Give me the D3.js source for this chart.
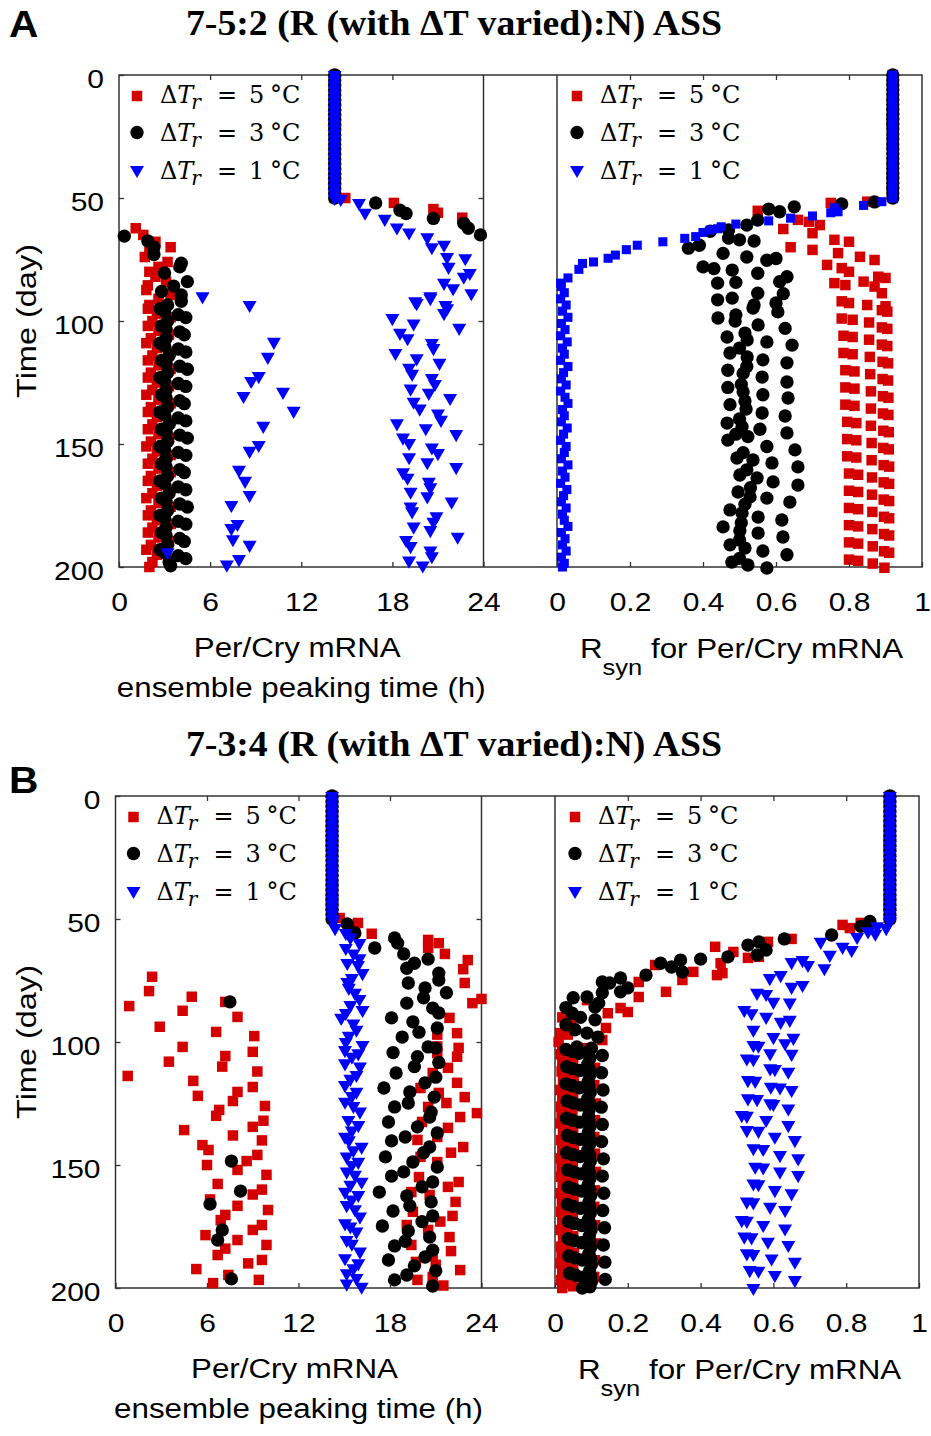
<!DOCTYPE html>
<html>
<head>
<meta charset="utf-8">
<script src="https://cdn.jsdelivr.net/npm/d3@7"></script>
<style>body{margin:0;background:#fff}</style>
</head>
<body>
<div id="chart"></div>
<script>
"use strict";
// ---- data (day, value) ----
var steadyDays = [0,2,4,6,8,10,12,14,16,18,20,22,24,26,28,30,32,34,36,38,40,42,44,46,48,50];
var timeTicks = [0, 50, 100, 150, 200];
var peakTicks = [0, 6, 12, 18, 24];
var rsynTicks = [0, 0.2, 0.4, 0.6, 0.8, 1];
var rsynTickLabels = ['0', '0.2', '0.4', '0.6', '0.8', '1'];
var legendTemps = ['5', '3', '1'];
var titleA = '7-5:2 (R (with \u0394T varied):N) ASS';
var titleB = '7-3:4 (R (with \u0394T varied):N) ASS';

// panel A, peaking time (h)
var aLeftSteady = 14.2;
var aLeftRed = [
  [50,14.9],[52,18.1],[54.5,20.7],[56,21.0],[58,22.6],
  [62.3,1.1],[65,1.6],[67.8,2.4],[70,3.4],[72,2.0],[74,1.7],[76,3.2],[78,2.6],[80,2.0],[82,2.4],[84,3.1],[85.5,1.9],[87.4,1.8],[89.4,3.4],[91,2.6],[93.5,2.0],
  [95,1.9],[97,2.5],[98.5,3.4],[100,2.2],[102,1.9],[104,2.6],[105.5,3.3],[107,2.1],
  [109,1.8],[111,2.5],[112.5,3.4],[114,2.2],[116,1.9],[118,2.6],[119.5,3.4],[121,2.1],
  [123,1.9],[125,2.5],[126.5,3.3],[128,2.2],[130,1.8],[132,2.6],[133.5,3.4],[135,2.1],
  [137,1.9],[139,2.5],[140.5,3.4],[142,2.2],[144,1.9],[146,2.6],[147.5,3.3],[149,2.1],
  [151,1.8],[153,2.5],[154.5,3.4],[156,2.2],[158,1.9],[160,2.6],[161.5,3.4],[163,2.1],
  [165,1.9],[167,2.5],[168.5,3.3],[170,2.2],[172,1.8],[174,2.6],[175.5,3.4],[177,2.1],
  [179,1.9],[181,2.5],[182.5,3.4],[184,2.2],[186,1.9],[188,2.6],[189.5,3.3],[191,2.1],
  [193,1.8],[195,2.5],[196.5,3.4],[198,2.2],[200,2.0]
];
var aLeftBlack = [
  [52,16.9],[55,18.5],[56.3,18.9],[58.3,20.7],[60.3,22.7],[62.3,23.0],[65,23.8],
  [65.5,0.35],[67.5,1.9],[70,2.3],[73,2.3],[76.5,4.1],[78,4.0],[80.5,3.0],[84,4.5],[85.8,3.6],[88,2.8],[89.4,4.1],[92,4.1],[93.5,3.2],
  [95,2.7],[96.2,3.0],[97.4,3.9],[98.6,4.4],[100,3.2],[102,2.8],[103.2,3.1],[104.4,4.0],[105.6,4.3],[107,3.1],
  [109,2.7],[110.2,3.0],[111.4,3.9],[112.6,4.4],[114,3.3],[116,2.8],[117.2,3.1],[118.4,4.0],[119.6,4.5],[121,3.2],
  [123,2.7],[124.2,3.0],[125.4,3.9],[126.6,4.4],[128,3.1],[130,2.8],[131.2,3.1],[132.4,4.0],[133.6,4.3],[135,3.2],
  [137,2.7],[138.2,3.0],[139.4,3.9],[140.6,4.4],[142,3.3],[144,2.8],[145.2,3.1],[146.4,4.0],[147.6,4.5],[149,3.2],
  [151,2.7],[152.2,3.0],[153.4,3.9],[154.6,4.4],[156,3.1],[158,2.8],[159.2,3.1],[160.4,4.0],[161.6,4.3],[163,3.2],
  [165,2.7],[166.2,3.0],[167.4,3.9],[168.6,4.4],[170,3.3],[172,2.8],[173.2,3.1],[174.4,4.0],[175.6,4.5],[177,3.2],
  [179,2.7],[180.2,3.0],[181.4,3.9],[182.6,4.4],[184,3.1],[186,2.8],[187.2,3.1],[188.4,4.0],[189.6,4.3],[191,3.2],
  [193,2.7],[194.2,3.0],[195.4,3.9],[196.6,4.4],[198,3.3],[199.5,3.4]
];
var aLeftBlue = [
  [50.4,14.6],[52,15.8],[56,16.2],[58.5,17.5],[62,18.3],[64,19.1],[66,20.3],[69,21.4],[70,20.6],[74,21.6],[74.5,22.8],
  [78,21.7],[80.5,23.1],[82,22.7],[84.5,21.4],[86.7,22.0],[88.7,23.2],[90,20.5],[90.7,20.5],[92,19.5],[92.7,19.6],
  [93.5,21.5],[94.8,21.6],[96.8,21.4],[98.8,18.0],[101,19.4],[102.8,22.4],[104.8,18.5],[107,19.0],[109,20.6],[111,20.7],
  [113,18.2],[115.2,19.6],[117,21.1],[119,19.1],[121.5,19.3],[123.2,20.6],[125.6,20.8],[127.5,19.2],[129.2,20.4],[131.3,21.8],
  [132.8,19.4],[135.6,19.8],[137.6,21.0],[140.2,21.2],[141.6,18.3],[143.6,20.2],[146,22.2],[147.4,18.7],[149.6,19.1],[151.4,20.6],
  [153.7,21.0],[155.4,19.1],[157.4,20.3],[159.4,22.2],[161.5,18.7],[163.7,19.0],[165.4,20.4],[167.6,20.5],[169.4,19.2],[171.3,20.3],
  [173.4,21.9],[175.4,19.2],[177.4,19.3],[179.4,20.9],[181.6,20.7],[183.6,19.4],[185,20.5],[187.7,22.3],[189,18.9],[191.5,19.2],
  [193.3,20.5],[195.6,20.6],[197.4,19.1],[199.4,20.0],
  [90,5.5],[93.5,8.6],[108.5,10.2],[114.6,9.8],[122.4,9.2],[124.4,8.7],[128.8,10.8],[130.5,8.2],[136.5,11.5],[142.6,9.5],
  [150.4,9.2],[152.8,8.6],[160.5,7.9],[165,8.3],[170.7,8.6],[174.8,7.4],[182.5,7.8],[184.2,7.4],[188.7,7.5],[191,8.6],
  [194,3.2],[196.8,7.9],[199,7.1]
];

// panel A, R_syn
var aRightSteady = 0.92;
var aRightRed = [
  [51.5,.85],[52,.75],[55.2,.55],[58.9,.66],[59.7,.69],[61,.72],[62.6,.62],[64.3,.70],[67,.76],[67.8,.80],[70,.64],[71.1,.70],
  [72.4,.77],[73.9,.83],[75.2,.87],[77.2,.74],[78.5,.78],[80,.80],[82,.88],[82.5,.90],[84,.84],[84.6,.76],[85.4,.79],[86,.87],
  [88.7,.89],[92,.78],[92.7,.80],[93.5,.85],[94,.90],
  [95.6,.89],[96.2,.905],[99,.78],[99.5,.81],[100.6,.855],[102.6,.89],[103.2,.905],[106,.785],[106.5,.81],[107.6,.855],
  [109.6,.89],[110.2,.905],[113,.785],[113.5,.81],[114.6,.857],[116.6,.892],[117.2,.907],[120,.79],[120.5,.815],[121.6,.858],
  [123.6,.892],[124.2,.907],[127,.79],[127.5,.815],[128.6,.86],[130.6,.893],[131.2,.908],[134,.79],[134.5,.815],[135.6,.86],
  [137.6,.893],[138.2,.908],[141,.795],[141.5,.82],[142.6,.86],[144.6,.894],[145.2,.909],[148,.795],[148.5,.82],[149.6,.862],
  [151.6,.894],[152.2,.909],[155,.795],[155.5,.82],[156.6,.862],[158.6,.895],[159.2,.91],[162,.80],[162.5,.825],[163.6,.863],
  [165.6,.895],[166.2,.91],[169,.80],[169.5,.825],[170.6,.863],[172.6,.895],[173.2,.91],[176,.80],[176.5,.825],[177.6,.864],
  [179.6,.896],[180.2,.91],[183,.80],[183.5,.825],[184.6,.864],[186.6,.896],[187.2,.91],[190,.80],[190.5,.825],[191.6,.865],
  [193.6,.896],[194.2,.91],[197,.80],[197.5,.825],[198.6,.865],[200.3,.897]
];
var aRightBlack = [
  [51.6,.87],[52.4,.78],[53.6,.65],[54.5,.58],[55.6,.61],[59,.55],[61,.52],[63,.47],[63.5,.42],[66.3,.47],[67,.50],[67.5,.54],
  [69.2,.39],[70.4,.36],[72.5,.455],[74,.52],[74.6,.60],[75.3,.575],[78,.40],[78.7,.43],[79.3,.48],[80.6,.55],[82,.63],[84,.61],
  [84.3,.49],[84.6,.44],[88.7,.55],[88.9,.62],[90.7,.48],[91.4,.44],[92.7,.60],[93.5,.54],
  [94.7,.537],[96.3,.605],[97.5,.49],[98.8,.441],[100,.488],[101.6,.551],[103,.625],
  [104.9,.515],[106.5,.466],[107.7,.521],[108.5,.575],[109.8,.644],[111,.50],
  [113,.474],[114.6,.521],[115.8,.564],[117,.63],[118.5,.52],
  [120,.468],[121.3,.51],[122.8,.562],[124.8,.63],[125.8,.505],
  [127,.468],[128.8,.51],[130,.564],[131.3,.633],[132.5,.515],
  [134,.474],[135.8,.518],[137.4,.562],[138.6,.625],[139.8,.50],
  [141.5,.466],[143,.507],[144,.556],[145.5,.63],[146,.49],
  [147,.523],[148.4,.468],[151,.575],[152.4,.652],[153.5,.51],
  [155.7,.493],[156.5,.537],[157.7,.589],[159.3,.66],[160.5,.52],
  [162.6,.501],[163.8,.548],[165.4,.592],[166.7,.66],[167.8,.53],
  [169.5,.496],[171.5,.529],[172,.575],[173.6,.638],[174.5,.515],
  [176.8,.474],[178,.507],[179.7,.551],[180.9,.616],[182,.505],
  [183.7,.455],[185.3,.501],[186.2,.551],[187.8,.619],[189,.50],
  [191,.474],[192.3,.515],[193.5,.564],[195,.63],[196.5,.50],
  [198,.479],[199.2,.523],[200.4,.575]
];
var aRightBlue = [
  [51.5,.89],[53,.84],[54,.76],[55.6,.77],[56,.75],[57.3,.70],[58.2,.64],[59.3,.58],[60.6,.49],[61.7,.45],[62.5,.44],[63,.42],
  [64,.40],[65.7,.38],[66.4,.35],[67.8,.29],[69.2,.22],[71,.19],[73.2,.16],[74.5,.14],[76,.10],[76.6,.07],[79,.06],[82.5,.03],[84.6,.01],
  [86,.012],[88.5,.02],[91,.01],[93.5,.025],[96,.015],[98.5,.03],[101,.012],[103.5,.022],[106,.01],[108.5,.028],[111,.015],
  [113.5,.02],[116,.01],[118.5,.03],[121,.018],[123.5,.012],[126,.025],[128.5,.01],[131,.022],[133.5,.03],[136,.015],
  [138.5,.02],[141,.012],[143.5,.028],[146,.018],[148.5,.01],[151,.025],[153.5,.02],[156,.012],[158.5,.03],[161,.015],
  [163.5,.022],[166,.01],[168.5,.027],[171,.018],[173.5,.012],[176,.025],[178.5,.015],[181,.02],[183.5,.03],[186,.012],
  [188.5,.022],[191,.015],[193.5,.025],[196,.012],[198.5,.02],[200,.015]
];

// panel B, peaking time (h)
var bLeftSteady = 14.2;
var bLeftRed = [
  [49.6,14.7],[51.6,15.9],[56,16.8],[58.5,20.5],[59.8,21.2],[61.8,20.5],[64.2,21.6],[66.7,23.1],[70.4,22.8],[76,22.9],
  [82.5,24.0],[84.2,23.4],[90.2,21.9],[96.4,22.4],[97,21.1],
  [73.5,2.4],[79.3,2.2],[81.6,5.0],[83.7,7.2],[85.4,0.9],[87.3,4.4],[89.8,8.0],[93.8,2.9],[95.9,6.6],[97.6,9.1],
  [102,4.4],[104,9.0],[105.7,7.2],[108,3.5],[110,7.0],[112,9.3],[113.8,0.8],[115.8,5.1],[118.3,9.0],[120.3,8.0],
  [121.9,5.4],[124,7.7],[126,9.8],[127.6,6.8],[130,6.6],[132,9.7],[134.5,9.0],[135.8,4.5],[138,7.7],[140,9.6],
  [141.9,5.7],[143.9,6.1],[145.9,9.3],[148.4,8.6],[150,6.0],[152,8.0],[154,9.9],[157.7,6.7],[160,9.6],[162,9.0],
  [164,6.2],[166.6,8.0],[168.3,10.0],[170.3,7.2],[172.4,6.9],[174.4,9.6],[176.4,9.0],[178.5,5.9],[180.5,8.0],[182.5,9.9],
  [184,7.2],[186.6,6.7],[188.6,9.6],[190,8.7],[192.3,5.3],[194.7,7.4],[196.7,9.4],[198,6.4],
  [101.8,21.1],[102.4,22.5],[104.5,21.1],[106,22.4],[110.5,21.8],[112.6,20.8],[116.6,22.4],[118.7,20.0],[120.7,21.2],
  [122.4,22.9],[124.8,21.7],[126.4,20.5],[128.9,23.7],[130.5,22.6],[132.5,20.1],[134.9,21.8],[138.6,21.1],[139.8,19.8],
  [142.7,22.8],[145,22.0],[146.7,20.0],[148.8,21.1],[154.9,19.9],[156.9,22.5],[158.9,21.8],[161,19.4],[162.2,20.6],
  [165,22.3],[169,19.5],[170.7,22.1],[173,21.3],[174.4,19.1],[176.4,20.5],[179.3,21.9],[182.5,19.4],[185,22.0],
  [187,20.8],[189.4,19.7],[190.6,21.0],[192.7,22.6],[195.5,20.8],[196.7,19.8],[199,21.5]
];
var bLeftBlack = [
  [52,15.2],[55.7,15.7],[57.7,18.3],[59.8,18.5],[61.8,17.0],[64.2,18.9],[66.3,20.5],[68,19.6],[70,19.1],[72,21.2],
  [74.8,21.2],[76,19.2],[78,20.3],[80,21.7],[82,20.2],[84.2,19.1],[86.2,20.8],[88.2,21.2],[90.2,18.1],[91.8,19.5],
  [94.3,21.1],[96,19.9],[98,18.8],[102,20.5],[102.5,21.0],
  [83.7,7.5],[148.4,7.6],[160.6,8.2],[165.9,6.2],[176.4,7.0],[180.5,6.7],[196.3,7.6],
  [104.3,18.2],[106,19.8],[108.3,21.2],[110,19.6],[112.6,18.4],[114.3,21.0],[116.6,20.3],[118.7,17.6],[120.3,19.3],
  [122.4,20.9],[124.8,19.2],[126.4,18.3],[128.5,20.7],[130.5,20.6],[132.5,17.9],[134.5,19.8],[137,21.1],[138.6,19.0],
  [140.2,18.1],[142.7,20.6],[145,20.2],[146.7,17.7],[148.8,19.5],[150.8,21.1],[152.8,18.9],[154.5,18.1],[156.9,20.8],
  [158.9,20.1],[161,17.3],[162.6,19.1],[165,20.7],[166.6,19.3],[168.7,18.2],[170.7,20.8],[173,20.1],[174.8,17.5],
  [176.8,19.2],[179.3,20.6],[181,19.0],[182.9,18.3],[184.6,20.8],[187.4,20.3],[188.6,17.9],[191,19.6],[193,21.0],
  [194.7,19.1],[196.7,18.3],[199.2,20.8]
];
var bLeftBlue = [
  [50.5,14.3],[53.7,14.4],[55.7,15.1],[57.5,15.4],[59.8,16.0],[61.8,15.1],[64,15.6],[66,16.0],[67.9,15.2],[68.7,15.9],
  [72,16.2],[74,15.5],[75.6,15.2],[78,15.3],[80,15.7],[82.5,16.0],[85,15.4],[87,16.2],[88.2,15.1],[90.2,14.8],
  [92.5,15.6],[95,15.8],[97.5,15.3],[100,15.1],[101.2,16.2],[103.3,15.05],[104.6,15.92],[106,15.5],[108.7,15.05],[110,16.03],
  [113.4,15.8],[115,15.4],[117.5,15.05],[120.2,15.8],[122,15.5],[124.3,15.05],[126,15.6],[128.3,16.03],[131.7,15.27],[133.8,15.92],
  [136,15.5],[138.5,15.05],[140,15.3],[142.6,16.14],[144,15.6],[146.6,15.16],[148.7,15.92],[150,15.5],[152.7,15.16],[154,15.7],
  [156.8,16.14],[158,15.4],[160.9,15.05],[162.2,15.92],[164,15.5],[166.3,15.16],[168,15.7],[171,16.03],[173.7,15.05],[175,15.4],
  [177.1,15.8],[180.5,15.16],[182,15.5],[185.2,16.03],[187.9,15.05],[190,15.92],[192,15.6],[194,15.16],[196,15.8],[198.2,15.16],[199.5,16.14]
];

// panel B, R_syn
var bRightSteady = 0.92;
var bRightRed = [
  [51.6,.84],[52.4,.79],[53.7,.81],[58.1,.65],[59.3,.585],[61.3,.44],[63.4,.49],[65.4,.56],[65.8,.53],[68,.455],[68.7,.275],
  [71.5,.38],[72,.46],[72.8,.445],[74.8,.35],[75.6,.23],[79.6,.305],[81.7,.23],[83,.088],[86.2,.18],[87.8,.20],[88.3,.145],
  [88.3,.04],[90,.02],[92,.045],[94.3,.14],[96.4,.014],[97,.035],[99.2,.13],[100,.01],[102.5,.075],[103,.02],
  [105,.015],[106,.035],[107.5,.05],[109,.02],[110.5,.11],[112,.018],[113,.038],[114.5,.052],[116,.022],[117.5,.108],
  [119.5,.014],[120.5,.034],[122,.05],[123.5,.02],[125,.112],[126.3,.016],[127.3,.036],[128.8,.048],[130.3,.018],[131.8,.11],
  [133.1,.015],[134.1,.035],[135.6,.05],[137.1,.022],[138.6,.108],[139.9,.017],[140.9,.037],[142.4,.052],[143.9,.02],[145.4,.11],
  [147.3,.015],[148.3,.034],[149.8,.049],[151.3,.018],[152.8,.112],[154.8,.016],[155.8,.036],[157.3,.05],[158.8,.021],[160.3,.11],
  [161.5,.015],[162.5,.035],[164,.051],[165.5,.019],[167,.108],[169,.017],[170,.037],[171.5,.049],[173,.02],[174.5,.11],
  [176.4,.015],[177.4,.034],[178.9,.05],[180.4,.022],[181.9,.112],[183.2,.016],[184.2,.036],[185.7,.052],[187.2,.018],[188.7,.11],
  [190,.015],[191,.035],[192.5,.05],[194,.02],[195.5,.108],[196.8,.017],[197.8,.037],[199.3,.05],[200,.02]
];
var bRightBlack = [
  [51,.865],[53,.84],[56.5,.76],[58.1,.63],[59.3,.56],[60.6,.53],[62.6,.58],[64.6,.555],[65.4,.475],[66.3,.40],[66.7,.345],
  [68,.29],[69.5,.32],[71.5,.35],[72.8,.25],[74,.18],[75.6,.13],[76,.15],[78,.20],[79.6,.18],[80,.13],[81.7,.088],[82,.05],
  [84.2,.12],[85.8,.11],[86,.03],[88.3,.047],[90,.07],[91,.11],[93,.03],[95,.055],[96.4,.088],[98,.118],[102,.06],[102.5,.10],
  [103,.03],[103.8,.046],[104.6,.066],[104,.092],[106.5,.096],[109,.09],[105.5,.13],
  [110,.032],[110.8,.048],[111.6,.068],[111,.094],[113.5,.095],[116,.091],[112.5,.128],
  [117,.03],[117.8,.047],[118.6,.067],[118,.093],[120.5,.097],[123,.09],[119.5,.132],
  [124,.033],[124.8,.05],[125.6,.07],[125,.095],[127.5,.094],[130,.092],[126.5,.127],
  [131,.031],[131.8,.048],[132.6,.068],[132,.093],[134.5,.096],[137,.091],[133.5,.13],
  [138,.034],[138.8,.05],[139.6,.07],[139,.094],[141.5,.095],[144,.09],[140.5,.128],
  [145,.032],[145.8,.049],[146.6,.069],[146,.095],[148.5,.097],[151,.092],[147.5,.133],
  [152,.035],[152.8,.052],[153.6,.072],[153,.094],[155.5,.096],[158,.091],[154.5,.13],
  [159,.036],[159.8,.053],[160.6,.073],[160,.096],[162.5,.098],[165,.093],[161.5,.134],
  [166,.034],[166.8,.05],[167.6,.07],[167,.095],[169.5,.097],[172,.092],[168.5,.131],
  [173,.037],[173.8,.054],[174.6,.074],[174,.097],[176.5,.099],[179,.094],[175.5,.136],
  [180,.036],[180.8,.053],[181.6,.073],[181,.096],[183.5,.098],[186,.093],[182.5,.133],
  [187,.038],[187.8,.055],[188.6,.075],[188,.098],[190.5,.1],[193,.095],[189.5,.137],
  [194,.04],[194.8,.057],[195.6,.077],[195,.098],[197.5,.1],[199.5,.096],[196.5,.138],[200,.075]
];
var bRightBlue = [
  [51,.92],[53,.885],[53.7,.91],[55,.86],[56,.88],[57.3,.83],[59.3,.73],[61.3,.79],[62.6,.815],[64.6,.755],[66.7,.68],
  [67.5,.65],[68.7,.695],[70,.74],[72.8,.62],[74,.59],[76.8,.68],[77.6,.65],[80,.555],[80.5,.58],[83.7,.60],[84,.645],
  [87,.52],[88.3,.54],[89.8,.58],[91,.645],[91.8,.62],[95,.545],[98,.60],[98.3,.655],
  [101.2,.545],[101.5,.559],[100.5,.632],[104.6,.591],[104.8,.65],[106.7,.527],[107,.545],[110.7,.591],[111,.604],[112.1,.641],
  [115.5,.53],[115.8,.55],[118.2,.593],[118.5,.618],[119.5,.65],[122.9,.53],[123.2,.555],[124.9,.591],[125.2,.60],[127,.641],
  [129.7,.513],[130,.527],[131.7,.58],[133.8,.641],[135.8,.527],[136.1,.559],[138.5,.604],[139.9,.659],[143.2,.545],[143.5,.572],
  [146,.618],[147.3,.668],[150.7,.55],[151,.572],[152.7,.618],[154.1,.668],[157.5,.545],[157.8,.559],[160.2,.604],[161.5,.65],
  [164.9,.527],[165.2,.545],[167,.591],[168.3,.632],[172.4,.513],[172.7,.527],[174.4,.572],[175.8,.632],[179.1,.52],[179.4,.54],
  [181.2,.585],[182.5,.641],[185.9,.527],[186.2,.545],[188,.595],[189.3,.659],[192.7,.535],[193,.559],[194.7,.604],[196.8,.659],[200,.545]
];

// ---- drawing ----
var width = 931, height = 1436, plotH = 492;
var SANS = "'Liberation Sans', Arial, sans-serif";
var SERIF = "'Liberation Serif', 'Times New Roman', serif";
var MATH = "'DejaVu Serif', serif";
var AXIS = '#333';
var RED = '#d40000', BLACK = '#000', BLUE = '#0000ff';

var svg = d3.select('#chart').append('svg')
    .attr('width', width)
    .attr('height', height);

var panels = [
  { letter: 'A', title: titleA, top: 75, letterY: 37, titleY: 35, lx: [119, 483.5], rx: [557, 922],
    left: { steady: aLeftSteady, red: aLeftRed, black: aLeftBlack, blue: aLeftBlue },
    right: { steady: aRightSteady, red: aRightRed, black: aRightBlack, blue: aRightBlue },
    rightBlue: 'square' },
  { letter: 'B', title: titleB, top: 796, letterY: 793, titleY: 756, lx: [115.5, 481.5], rx: [555, 919],
    left: { steady: bLeftSteady, red: bLeftRed, black: bLeftBlack, blue: bLeftBlue },
    right: { steady: bRightSteady, red: bRightRed, black: bRightBlack, blue: bRightBlue },
    rightBlue: 'triangle' }
];

function stretchText(parent, x, y, str, o) {
  return parent.append('text')
    .attr('transform', 'translate(' + x + ',' + y + ')' + (o.rotate ? ' rotate(' + o.rotate + ')' : '') +
      ' scale(' + (o.sx || 1.16) + ',1)')
    .attr('text-anchor', o.anchor || 'middle')
    .attr('font-family', o.family || SANS)
    .attr('font-size', o.size)
    .attr('font-weight', o.weight || 'normal')
    .attr('fill', '#000')
    .text(str);
}

var shapes = {
  square: { type: d3.symbolSquare, size: 110 },
  smallsquare: { type: d3.symbolSquare, size: 82 },
  circle: { type: d3.symbolCircle, size: 140 },
  triangle: { type: d3.symbolTriangle, size: 85 }
};

function drawSeries(g, pts, x, y, kind, color) {
  var s = shapes[kind];
  g.selectAll(null)
    .data(pts)
    .enter().append('path')
    .attr('d', d3.symbol().type(s.type).size(s.size))
    .attr('transform', function (d) {
      return 'translate(' + x(d[1]) + ',' + y(d[0]) + ')' + (kind === 'triangle' ? ' rotate(180)' : '');
    })
    .attr('fill', color);
}

function legendText(g, x, y, str) {
  return g.append('text')
    .attr('x', x).attr('y', y)
    .attr('font-family', MATH)
    .attr('font-size', 24)
    .attr('fill', '#000')
    .text(str);
}

function drawLegend(g, x0, top) {
  var rows = [
    { kind: 'square', color: RED, dy: 21 },
    { kind: 'circle', color: BLACK, dy: 57.5 },
    { kind: 'triangle', color: BLUE, dy: 95 }
  ];
  var baselines = [28, 66, 104];
  rows.forEach(function (r, i) {
    var s = shapes[r.kind];
    var by = top + baselines[i];
    g.append('path')
      .attr('d', d3.symbol().type(s.type).size(s.size)())
      .attr('transform', 'translate(' + (x0 + 18) + ',' + (top + r.dy) + ')' + (r.kind === 'triangle' ? ' rotate(180)' : ''))
      .attr('fill', r.color);
    var t = legendText(g, x0 + 41, by, '\u0394');
    t.append('tspan').attr('font-style', 'italic').text('T');
    t.append('tspan').attr('font-style', 'italic').attr('font-size', 20).attr('dx', -2).attr('dy', 6).text('r');
    legendText(g, x0 + 98, by, '=');
    legendText(g, x0 + 130, by, legendTemps[i]);
    legendText(g, x0 + 151, by, '\u00b0C');
  });
}

function styleAxis(g) {
  g.select('.domain').remove();
  g.attr('font-family', SANS).attr('font-size', 25);
  g.selectAll('line').attr('stroke', AXIS).attr('stroke-width', 1.3);
  g.selectAll('text').attr('fill', '#000');
}

panels.forEach(function (p) {
  var bottom = p.top + plotH;
  var y = d3.scaleLinear().domain([0, 200]).range([p.top, bottom]);
  var xh = d3.scaleLinear().domain([0, 24]).range(p.lx);
  var xr = d3.scaleLinear().domain([0, 1]).range(p.rx);
  var g = svg.append('g');

  stretchText(g, 9, p.letterY, p.letter, { size: 37, weight: 'bold', anchor: 'start', sx: 1.1 });
  stretchText(g, 454, p.titleY, p.title, { size: 35, weight: 'bold', family: SERIF, sx: 1.08 });

  // frame
  g.append('rect')
    .attr('x', p.lx[0]).attr('y', p.top)
    .attr('width', p.rx[1] - p.lx[0]).attr('height', plotH)
    .attr('fill', 'none').attr('stroke', AXIS).attr('stroke-width', 1.5);
  [p.lx[1], p.rx[0]].forEach(function (xv) {
    g.append('line').attr('x1', xv).attr('x2', xv).attr('y1', p.top).attr('y2', bottom)
      .attr('stroke', AXIS).attr('stroke-width', 1.5);
  });

  // markers
  var steadyL = steadyDays.map(function (d) { return [d, p.left.steady]; });
  var steadyR = steadyDays.map(function (d) { return [d, p.right.steady]; });
  var gl = g.append('g');
  drawSeries(gl, steadyL, xh, y, 'square', RED);
  drawSeries(gl, p.left.red, xh, y, 'square', RED);
  drawSeries(gl, steadyL, xh, y, 'circle', BLACK);
  drawSeries(gl, p.left.black, xh, y, 'circle', BLACK);
  drawSeries(gl, steadyL, xh, y, 'triangle', BLUE);
  drawSeries(gl, p.left.blue, xh, y, 'triangle', BLUE);
  var gr = g.append('g');
  var blueKind = p.rightBlue === 'square' ? 'smallsquare' : 'triangle';
  drawSeries(gr, steadyR, xr, y, 'square', RED);
  drawSeries(gr, p.right.red, xr, y, 'square', RED);
  drawSeries(gr, steadyR, xr, y, 'circle', BLACK);
  drawSeries(gr, p.right.black, xr, y, 'circle', BLACK);
  drawSeries(gr, steadyR, xr, y, blueKind, BLUE);
  drawSeries(gr, p.right.blue, xr, y, blueKind, BLUE);

  // axes
  var bx = g.append('g').attr('transform', 'translate(0,' + bottom + ')')
    .call(d3.axisBottom(xh).tickValues(peakTicks).tickFormat(d3.format('d')).tickSizeInner(-5).tickSizeOuter(0).tickPadding(26));
  styleAxis(bx);
  var br = g.append('g').attr('transform', 'translate(0,' + bottom + ')')
    .call(d3.axisBottom(xr).tickValues(rsynTicks).tickFormat(function (d, i) { return rsynTickLabels[i]; })
      .tickSizeInner(-5).tickSizeOuter(0).tickPadding(26));
  styleAxis(br);
  [bx, br].forEach(function (a) { a.selectAll('text').attr('transform', 'scale(1.2,1)'); });
  var tx = g.append('g').attr('transform', 'translate(0,' + p.top + ')')
    .call(d3.axisTop(xh).tickValues(peakTicks.slice(1, -1)).tickFormat('').tickSizeInner(-5).tickSizeOuter(0));
  styleAxis(tx);
  var tr = g.append('g').attr('transform', 'translate(0,' + p.top + ')')
    .call(d3.axisTop(xr).tickValues(rsynTicks.slice(1, -1)).tickFormat('').tickSizeInner(-5).tickSizeOuter(0));
  styleAxis(tr);
  var ly = g.append('g').attr('transform', 'translate(' + p.lx[0] + ',0)')
    .call(d3.axisLeft(y).tickValues(timeTicks).tickSizeInner(-5).tickSizeOuter(0).tickPadding(12.5));
  styleAxis(ly);
  ly.selectAll('text').attr('dy', '0.5em').attr('transform', 'scale(1.2,1)');
  var ry = g.append('g').attr('transform', 'translate(' + p.lx[1] + ',0)')
    .call(d3.axisRight(y).tickValues(timeTicks.slice(1, -1)).tickFormat('').tickSizeInner(-5).tickSizeOuter(0));
  styleAxis(ry);

  // legends
  drawLegend(g, p.lx[0], p.top);
  drawLegend(g, p.rx[0] + 2, p.top);

  // axis titles
  var midL = (p.lx[0] + p.lx[1]) / 2;
  stretchText(g, 36, p.top + plotH / 2, 'Time (day)', { size: 28, rotate: -90 });
  stretchText(g, midL - 4, bottom + 90, 'Per/Cry mRNA', { size: 27 });
  stretchText(g, midL, bottom + 130, 'ensemble peaking time (h)', { size: 27 });
  var rl = stretchText(g, p.rx[0] + 23, bottom + 91, 'R', { size: 27, anchor: 'start' });
  rl.append('tspan').attr('font-size', 22).attr('dy', 17).text('syn');
  rl.append('tspan').attr('dy', -17).text(' for Per/Cry mRNA');
});
</script>
</body>
</html>
